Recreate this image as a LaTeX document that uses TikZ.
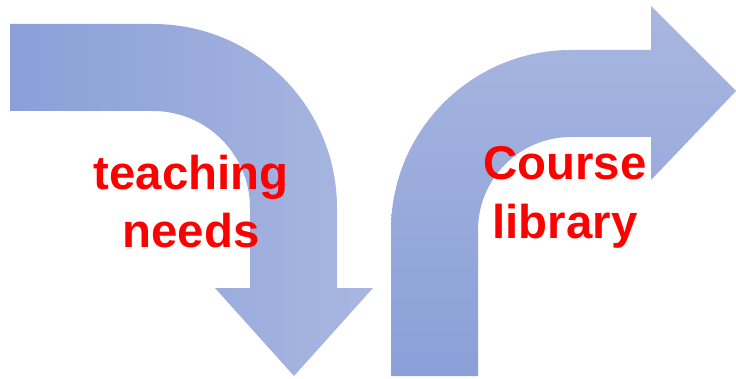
\documentclass[tikz,border=0pt]{standalone}
\usepackage{fontspec}
\setmainfont{Liberation Sans}
\begin{document}
\begin{tikzpicture}[x=1pt,y=1pt,
  lbl/.style={text=red,font=\fontsize{47.4}{57}\selectfont\bfseries,inner sep=0pt,anchor=base}]
\definecolor{adark}{HTML}{8AA0D8}
\definecolor{alight}{HTML}{A9B6E0}
\useasboundingbox (0,0) rectangle (736,378);
% left arrow (turns down)
\shade[left color=adark,right color=alight]
  (10,354) -- (153,354) arc[start angle=90,end angle=0,radius=184]
  -- (337,90) -- (373,90) -- (294,2) -- (215,90) -- (250,90)
  -- (250,170) arc[start angle=0,end angle=90,radius=97]
  -- (10,267) -- cycle;
% right arrow (turns right)
\shade[bottom color=adark,top color=alight]
  (391,2) -- (391,148) arc[start angle=180,end angle=90,radius=180]
  -- (651,328) -- (651,372) -- (736,287) -- (651,198) -- (651,241)
  -- (571,241) arc[start angle=90,end angle=180,radius=93]
  -- (478,2) -- cycle;
\node[lbl] (t1) at (191,188) {teaching};
\node[lbl] (t2) at (191,131) {needs};
\node[lbl] (c1) at (565,198) {Course};
\node[lbl] (c2) at (565,140) {library};
\end{tikzpicture}
\end{document}
